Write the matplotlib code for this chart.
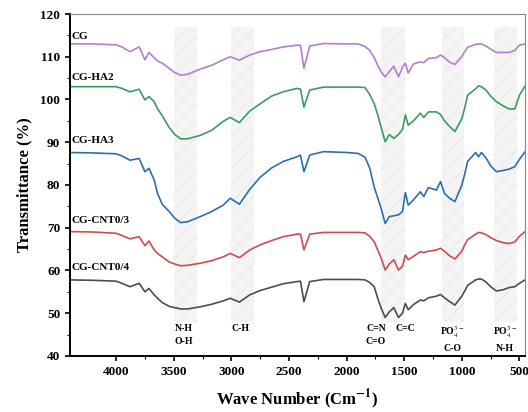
import matplotlib
matplotlib.use("Agg")
import matplotlib.pyplot as plt

# wavenumber grid (cm-1) and transmittance
wn = [4400, 4200, 4000, 3950, 3880, 3800, 3750, 3715, 3670, 3640,
      3600, 3540, 3490, 3440, 3380, 3270, 3170, 3070, 3010, 2930,
      2840, 2750, 2650, 2550, 2430, 2400, 2370, 2320, 2200, 2000,
      1900, 1840, 1800, 1760, 1730, 1700, 1665, 1630, 1590, 1550,
      1515, 1490, 1465, 1420, 1360, 1330, 1290, 1220, 1185, 1150,
      1110, 1060, 1000, 975, 950, 880, 855, 830, 790, 750,
      700, 640, 590, 540, 500, 450]

cg = [113.0, 113.0, 112.8, 112.3, 111.2, 112.3, 109.3, 111.0, 109.8, 109.0,
      108.5, 107.3, 106.3, 105.7, 105.9, 107.1, 108.0, 109.3, 110.0, 109.2,
      110.4, 111.2, 111.7, 112.3, 112.7, 112.7, 107.3, 112.5, 113.1, 113.0,
      113.0, 112.4, 111.5, 109.8, 108.0, 106.5, 105.3, 106.5, 107.8, 105.3,
      107.5, 108.5, 106.2, 108.3, 108.8, 108.6, 109.6, 109.8, 110.4, 109.8,
      108.8, 108.2, 110.0, 111.2, 112.2, 112.9, 113.0, 113.0, 112.5, 111.8,
      111.0, 111.0, 111.0, 111.5, 112.7, 113.0]

cg_ha2 = [103.0, 103.0, 103.0, 102.6, 101.8, 102.4, 99.9, 100.7, 99.5, 97.8,
          96.2, 93.5, 91.8, 90.8, 90.8, 91.6, 92.8, 94.9, 95.8, 94.6,
          97.3, 99.0, 100.8, 101.8, 102.6, 102.4, 98.2, 102.2, 102.9, 102.9,
          102.9, 102.8, 101.2, 99.0, 96.5, 93.5, 90.1, 91.8, 90.9, 91.8,
          93.0, 96.4, 94.0, 95.0, 96.8, 95.8, 97.1, 97.1, 96.5, 95.0,
          93.8, 92.5, 95.5, 98.0, 101.0, 102.5, 103.2, 103.0, 102.2, 100.8,
          99.5, 98.5, 97.8, 97.8, 101.0, 103.2]

cg_ha3 = [87.6, 87.5, 87.3, 86.8, 85.8, 86.2, 83.1, 83.9, 81.2, 78.0,
          75.5, 73.8, 72.2, 71.2, 71.4, 72.6, 73.8, 75.3, 76.9, 75.5,
          79.0, 81.8, 84.0, 85.5, 86.6, 87.0, 83.1, 87.0, 87.8, 87.6,
          87.4, 86.5, 84.0, 79.5, 77.0, 74.5, 71.0, 72.6, 72.8, 73.0,
          73.8, 78.2, 75.3, 76.5, 78.4, 77.3, 79.4, 78.8, 80.8, 78.0,
          77.0, 76.1, 80.0, 82.5, 85.5, 87.6, 86.6, 87.6, 86.3, 84.5,
          83.1, 83.4, 83.7, 84.3, 86.0, 87.8]

cg_cnt3 = [69.1, 69.0, 68.7, 68.2, 67.4, 67.9, 65.8, 66.9, 64.8, 64.0,
           63.2, 62.0, 61.5, 61.1, 61.2, 61.7, 62.3, 63.2, 64.0, 63.0,
           64.8, 66.0, 67.0, 67.9, 68.5, 68.5, 64.8, 68.5, 68.9, 68.9,
           68.9, 68.8, 68.0, 66.7, 64.8, 62.9, 60.1, 61.5, 62.5, 60.1,
           61.0, 63.6, 62.5, 63.3, 64.4, 64.2, 64.5, 64.8, 65.2, 64.5,
           63.5, 62.7, 64.5, 66.0, 67.2, 68.5, 68.9, 68.8, 68.4, 67.7,
           67.0, 66.5, 66.3, 66.7, 68.0, 69.1]

cg_cnt4 = [57.8, 57.7, 57.5, 57.0, 56.2, 57.0, 55.0, 55.8, 54.3, 53.5,
           52.5, 51.6, 51.3, 51.0, 51.0, 51.5, 52.1, 52.9, 53.5, 52.6,
           54.3, 55.3, 56.1, 56.9, 57.4, 57.5, 52.7, 57.4, 57.9, 57.9,
           57.9, 57.8, 57.2, 56.2, 53.5, 51.2, 49.0, 50.3, 51.3, 49.0,
           50.0, 52.3, 50.8, 52.0, 53.1, 52.9, 53.6, 54.0, 54.4, 53.6,
           52.8, 51.9, 54.0, 55.2, 56.5, 57.8, 58.0, 58.0, 57.3, 56.2,
           55.2, 55.5, 56.0, 56.2, 57.0, 57.8]

names = ["CG", "CG-HA2", "CG-HA3", "CG-CNT0/3", "CG-CNT0/4"]
colors = ["#b27fd0", "#3e9a5e", "#2c6db3", "#d24a4e", "#4d4d4d"]
label_y = [113.8, 104.1, 89.4, 70.6, 59.7]

# shaded bands (cm-1)
bands = [(3500, 3300), (3000, 2800), (1700, 1490), (1170, 980), (720, 520)]
band_labels = [(3410, "N-H\nO-H"), (2917, "C-H"), (1745, "C=N\nC=O"),
               (1487, "C=C"), (1080, "PO$_4^{3-}$\nC-O"), (623, "PO$_4^{3-}$\nN-H")]

plt.rcParams['font.family'] = ['Liberation Serif', 'DejaVu Serif']
plt.rcParams['mathtext.fontset'] = 'stix'
plt.rcParams['hatch.color'] = '#e6e6e6'
plt.rcParams['hatch.linewidth'] = 0.6

fig = plt.figure(figsize=(5.28, 4.12), dpi=100)
ax = fig.add_axes([0.1326, 0.136, 0.861, 0.830])

for lo, hi in bands:
    ax.fill_between([hi, lo], 48, 117, facecolor='#f4f4f4', hatch='//',
                    edgecolor='#e6e6e6', linewidth=0, zorder=0)

series = [cg, cg_ha2, cg_ha3, cg_cnt3, cg_cnt4]
for s, c, n, ly in zip(series, colors, names, label_y):
    ax.plot(wn, s, color=c, lw=1.2, zorder=2)
    ax.text(4390, ly, n, fontsize=8, fontweight='bold', ha='left', va='bottom')

for x, t in band_labels:
    ax.text(x, 47.5, t, fontsize=7, fontweight='bold', ha='center', va='top',
            linespacing=1.6)

ax.set_xlim(4400, 455)
ax.set_ylim(40, 120)
ax.set_xticks([4000, 3500, 3000, 2500, 2000, 1500, 1000, 500])
ax.set_xticks([3750, 3250, 2750, 2250, 1750, 1250, 750], minor=True)
ax.set_yticks([40, 50, 60, 70, 80, 90, 100, 110, 120])
ax.set_yticks([45, 55, 65, 75, 85, 95, 105, 115], minor=True)
ax.tick_params(which='major', direction='out', length=3.5, width=1.2, labelsize=9.5)
ax.tick_params(which='minor', direction='out', length=2, width=0.8)
for lab in ax.get_xticklabels() + ax.get_yticklabels():
    lab.set_fontweight('bold')

ax.spines['left'].set_linewidth(1.4)
ax.spines['bottom'].set_linewidth(1.4)
ax.spines['top'].set_color('#888888')
ax.spines['right'].set_color('#888888')
ax.spines['top'].set_linewidth(0.8)
ax.spines['right'].set_linewidth(0.8)

ax.set_ylabel("Transmittance (%)", fontsize=12, fontweight='bold', labelpad=6)
ax.set_xlabel("Wave Number (Cm$^{\\mathbf{-1}}$)", fontsize=12, fontweight='bold',
              labelpad=7)

fig.savefig("out.png", dpi=100)
